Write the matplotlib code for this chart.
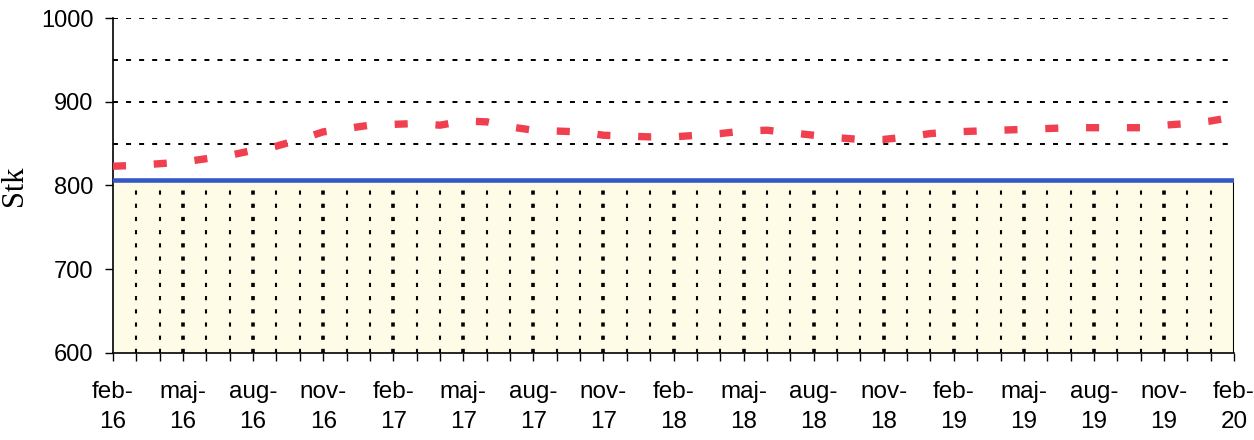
"""Monthly Stk level vs. fixed capacity, feb-16 .. feb-20."""

import matplotlib

matplotlib.use("Agg")
import matplotlib.pyplot as plt
import numpy as np

plt.rcParams["font.family"] = ["Liberation Sans", "DejaVu Sans"]
plt.rcParams["lines.scale_dashes"] = False

# one value per month, feb-16 .. feb-20
month_names = ["feb", "mar", "apr", "maj", "jun", "jul", "aug", "sep", "okt", "nov", "dec", "jan"]
years = ["16", "17", "18", "19", "20"]
months = []
for k in range(49):
    m = month_names[k % 12]
    y = years[(k + 1) // 12]
    months.append(f"{m}-\n{y}")

stk = [
    823, 824, 826, 828, 832, 836, 842, 847, 855, 864, 868, 872,
    873, 874, 872, 877, 876, 870, 866, 865, 864, 860, 859, 858,
    858, 860, 862, 865, 866, 863, 860, 857, 855, 855, 858, 862,
    864, 865, 866, 867, 868, 869, 869, 869, 869, 872, 874, 877,
    882,
]
capacity = [806] * 49

y_ticks = [600, 700, 800, 900, 1000]
grid_levels = [850, 900, 950, 1000]

fig = plt.figure(figsize=(12.54, 4.4), dpi=100)
ax = fig.add_axes([0.0901, 0.198, 0.894, 0.761])

x = np.arange(len(months))
ax.set_xlim(0, len(months) - 1)
ax.set_ylim(600, 1000)

for lvl in grid_levels:
    ax.axhline(lvl, color="black", linewidth=1.4, dashes=(3.6, 5.8), zorder=1)

ax.fill_between(x, 600, capacity, color="#FEFCE6", zorder=2)
for i in x[1:-1]:
    lw = 2.6 if i % 3 == 0 else 1.5
    ax.plot([i, i], [600, capacity[i]], color="black", linewidth=lw,
            dashes=(3.0, 6.5), zorder=3)
ax.plot([x[-1], x[-1]], [600, capacity[-1]], color="black", linewidth=1.5, zorder=3)
ax.plot(x, capacity, color="#3558C8", linewidth=3.3, zorder=4)

ax.plot(x, stk, color="#F0404F", linewidth=5.3, dashes=(9.4, 20.0),
        solid_capstyle="butt", dash_capstyle="butt", zorder=5)

for side in ("top", "right"):
    ax.spines[side].set_visible(False)
ax.spines["left"].set_linewidth(1.2)
ax.spines["bottom"].set_linewidth(1.2)

ax.set_yticks(y_ticks)
ax.tick_params(axis="y", labelsize=17, length=6, width=1, pad=8)
ax.set_xticks(x)
ax.set_xticklabels([lbl if i % 3 == 0 else "" for i, lbl in enumerate(months)])
ax.tick_params(axis="x", labelsize=17.5, length=6, width=1, pad=14)
for lbl in ax.get_xticklabels():
    lbl.set_linespacing(1.5)

ax.set_ylabel("Stk", family=["Liberation Serif", "DejaVu Serif"], fontsize=22,
              labelpad=9)

fig.savefig("out.png", dpi=100)
